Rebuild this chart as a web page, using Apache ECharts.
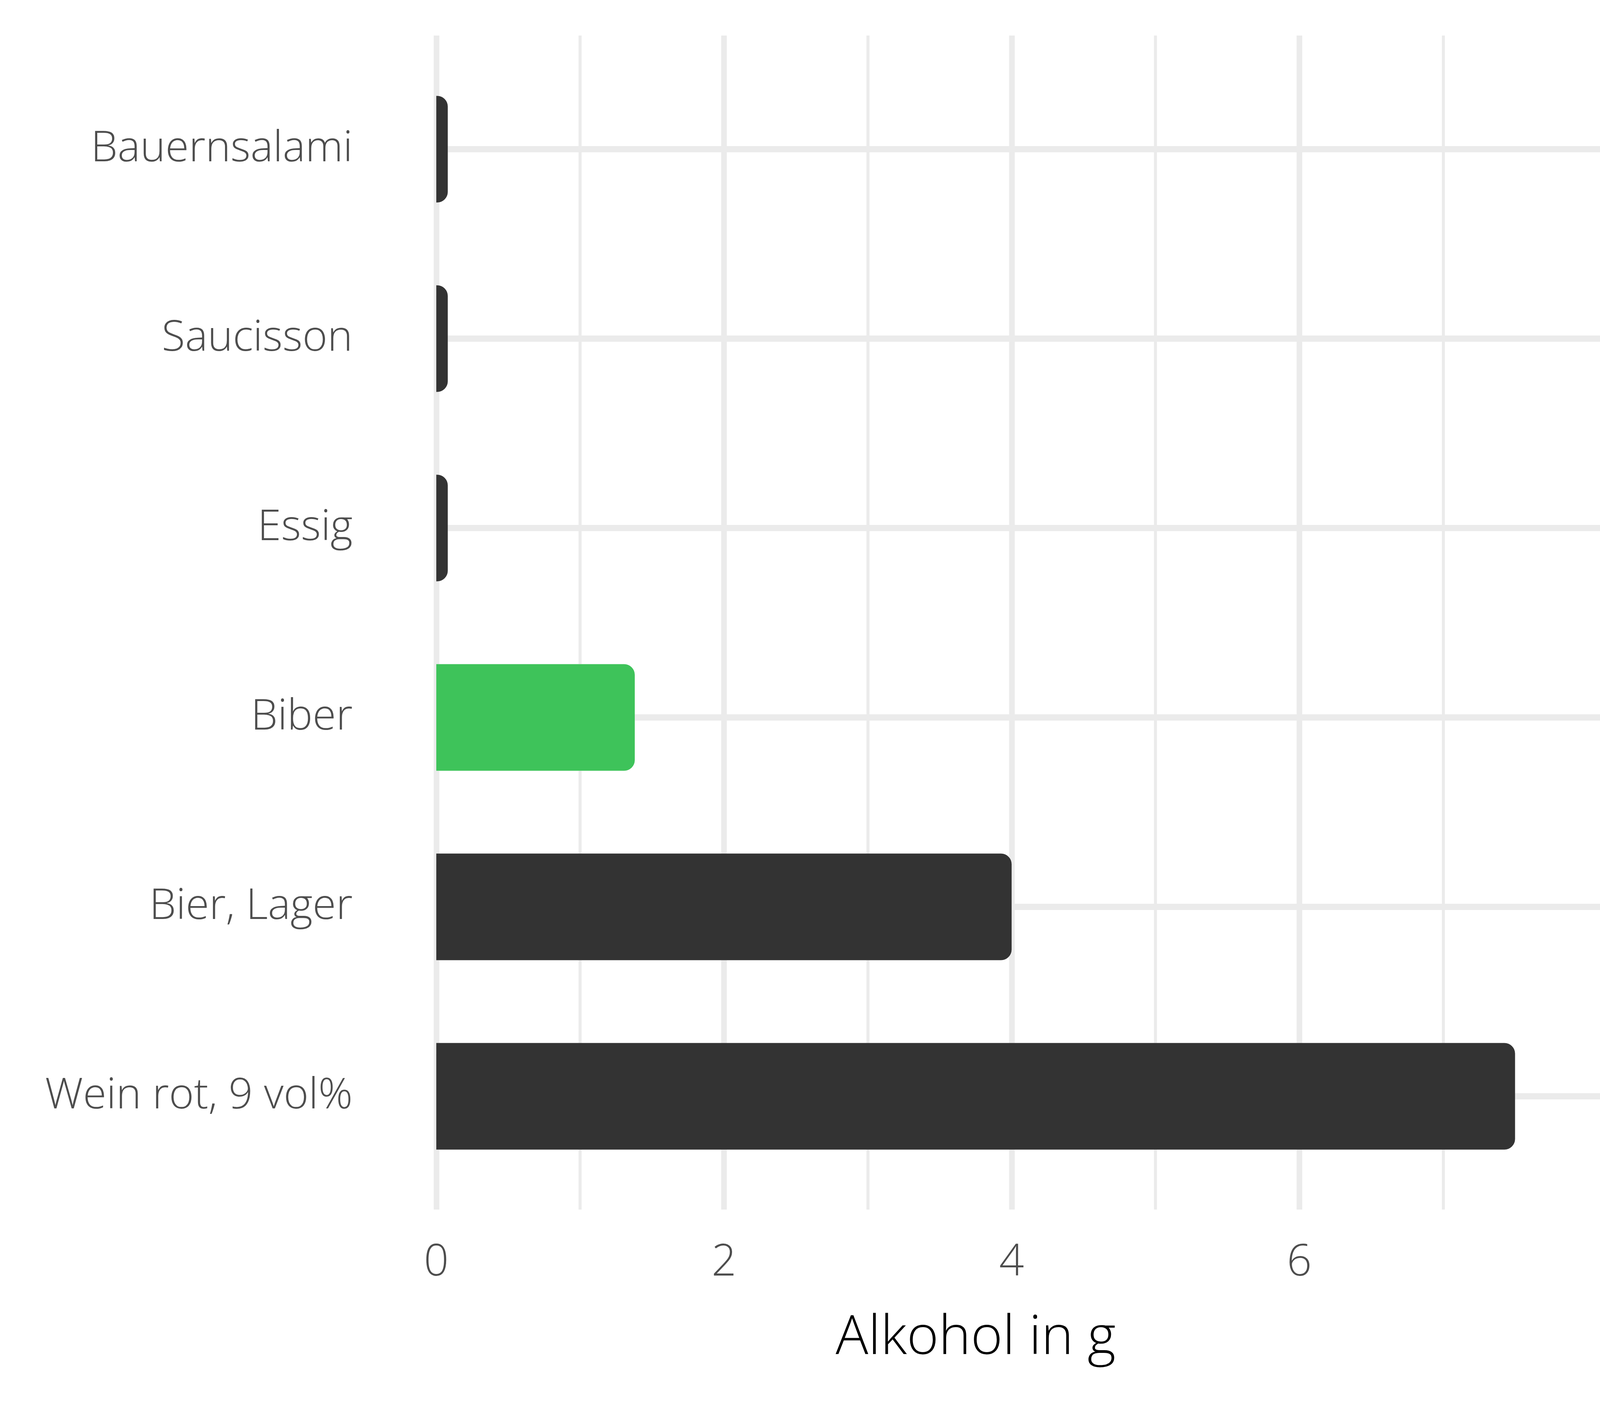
<!DOCTYPE html>
<html><head><meta charset="utf-8">
<script src="https://cdn.jsdelivr.net/npm/echarts@6/dist/echarts.min.js"></script>
<style>html,body{margin:0;padding:0;background:#fff;overflow:hidden}#c{width:100vw;height:100vh}</style>
</head><body><div id="c"></div>
<script>
// ---- data ----
const categories = ['Bauernsalami', 'Saucisson', 'Essig', 'Biber', 'Bier, Lager', 'Wein rot, 9 vol%'];
const values = [0.08, 0.08, 0.08, 1.38, 4.0, 7.5];
const highlighted = ['Biber'];
const majorTicks = [0, 2, 4, 6];
const minorTicks = [1, 3, 5, 7];
const xMin = -0.375, xMax = 7.875;
const axisTitle = 'Alkohol in g';

// ---- layout (designed for 4800x3600, scaled to the actual window) ----
const W = window.innerWidth || 4800, H = window.innerHeight || 3600;
const sx = W / 4800, sy = H / 3600, fs = Math.min(sx, sy);
const FONT = 'Open Sans';
const FW = 300;
const GRID_COLOR = '#EBEBEB';

const chart = echarts.init(document.getElementById('c'), null, {renderer: 'canvas'});
const option = {
  backgroundColor: '#ffffff',
  animation: false,
  grid: [
    {left: 1147 * sx, right: 93 * sx, top: 91 * sy, bottom: 503 * sy},
    {left: 1147 * sx, right: 93 * sx, top: 139.5 * sy, bottom: 550.5 * sy}
  ],
  xAxis: [
    {
      type: 'value', gridIndex: 0, min: xMin, max: xMax, position: 'bottom',
      axisLine: {show: false},
      axisTick: {show: false, customValues: majorTicks},
      axisLabel: {customValues: majorTicks, color: '#4D4D4D', fontFamily: FONT, fontWeight: FW,
                  fontSize: 131 * fs, margin: 131 * sy - 58 * fs},
      splitLine: {show: true, lineStyle: {color: GRID_COLOR, width: 17 * sx}},
      name: axisTitle, nameLocation: 'middle', nameGap: 318 * sy - 67 * fs,
      nameTextStyle: {color: '#000000', fontFamily: FONT, fontWeight: FW, fontSize: 163 * fs}
    },
    {
      type: 'value', gridIndex: 0, min: xMin, max: xMax, position: 'top',
      axisLine: {show: false},
      axisTick: {show: false, customValues: minorTicks},
      axisLabel: {show: false, customValues: minorTicks},
      splitLine: {show: true, lineStyle: {color: GRID_COLOR, width: 9 * sx}}
    },
    {type: 'value', gridIndex: 1, min: xMin, max: xMax, show: false}
  ],
  yAxis: [
    {type: 'value', gridIndex: 0, min: 0, max: 1, show: false},
    {
      type: 'category', gridIndex: 1, data: categories, inverse: true,
      axisLine: {show: false},
      axisTick: {show: true, inside: true, alignWithLabel: true, length: 3560 * sx,
                 lineStyle: {color: GRID_COLOR, width: 16 * sy}},
      axisLabel: {color: '#4D4D4D', fontFamily: FONT, fontWeight: FW, fontSize: 128 * fs, margin: 89 * sx},
      splitLine: {show: false}
    }
  ],
  series: [
    {
      type: 'bar', xAxisIndex: 2, yAxisIndex: 1, data: values, silent: true,
      barWidth: 273 * sy, barGap: '-100%', z: 2,
      itemStyle: {color: '#ffffff', borderColor: '#ffffff', borderWidth: 34 * fs,
                  borderRadius: [0, 32 * fs, 32 * fs, 0]}
    },
    {
      type: 'bar', xAxisIndex: 2, yAxisIndex: 1, data: values, silent: true,
      barWidth: 273 * sy, barGap: '-100%', z: 3,
      itemStyle: {
        borderRadius: [0, 32 * fs, 32 * fs, 0],
        color: p => highlighted.includes(categories[p.dataIndex]) ? '#3EC35A' : '#333333'
      }
    }
  ]
};
chart.setOption(option);
window.addEventListener('resize', () => chart.resize());
</script></body></html>
